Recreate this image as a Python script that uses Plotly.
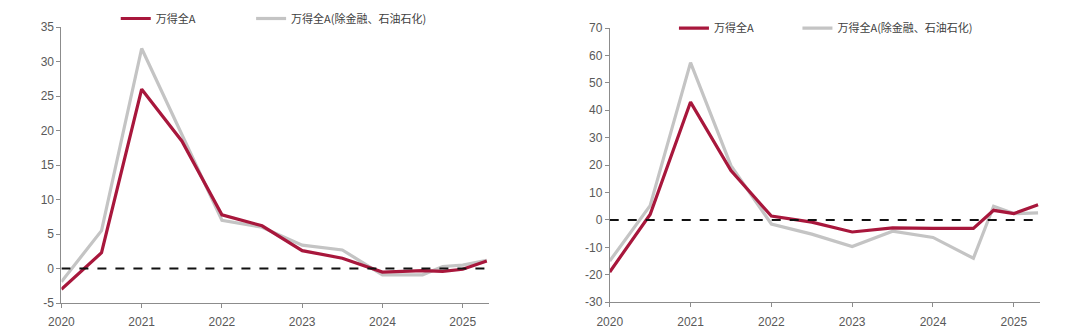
import plotly.graph_objects as go

# x positions (year fractions)
periods = [2020.0, 2020.5, 2021.0, 2021.5, 2022.0, 2022.5, 2023.0, 2023.5,
           2024.0, 2024.5, 2024.75, 2025.0, 2025.3]

# left chart
left_all_a = [-3.0, 2.3, 26.0, 18.5, 7.8, 6.2, 2.6, 1.5, -0.5, -0.3, -0.4, -0.1, 1.1]
left_ex_fin = [-1.9, 5.5, 31.9, 19.4, 7.0, 6.0, 3.4, 2.7, -0.9, -0.9, 0.3, 0.5, 1.2]

# right chart
right_all_a = [-19.0, 2.0, 43.0, 18.0, 1.4, -0.8, -4.4, -2.9, -3.1, -3.1, 3.5, 2.3, 5.5]
right_ex_fin = [-15.0, 5.2, 57.4, 19.8, -1.5, -5.2, -9.7, -4.1, -6.4, -14.0, 5.0, 2.3, 2.6]

year_ticks = [2020, 2021, 2022, 2023, 2024, 2025]
year_labels = ["2020", "2021", "2022", "2023", "2024", "2025"]
left_yticks = [-5, 0, 5, 10, 15, 20, 25, 30, 35]
left_ylabels = ["-5", "0", "5", "10", "15", "20", "25", "30", "35"]
right_yticks = [-30, -20, -10, 0, 10, 20, 30, 40, 50, 60, 70]
right_ylabels = ["-30", "-20", "-10", "0", "10", "20", "30", "40", "50", "60", "70"]

name_a = "万得全A"
name_b = "万得全A(除金融、石油石化)"

RED = "#A8173C"
GRAY = "#C4C4C4"
AXIS = "#8C8C8C"
TXT = "#595959"

fig = go.Figure()

fig.add_trace(go.Scatter(x=periods, y=left_ex_fin, name=name_b, mode="lines",
                         line=dict(color=GRAY, width=3.2), xaxis="x", yaxis="y",
                         legend="legend2"))
fig.add_trace(go.Scatter(x=periods, y=left_all_a, name=name_a, mode="lines",
                         line=dict(color=RED, width=3.2), xaxis="x", yaxis="y",
                         legend="legend"))
fig.add_trace(go.Scatter(x=periods, y=right_ex_fin, name=name_b, mode="lines",
                         line=dict(color=GRAY, width=3.2), xaxis="x2", yaxis="y2",
                         legend="legend4"))
fig.add_trace(go.Scatter(x=periods, y=right_all_a, name=name_a, mode="lines",
                         line=dict(color=RED, width=3.2), xaxis="x2", yaxis="y2",
                         legend="legend3"))

xr = [2020, 2025.33]
for xa, ya in (("x", "y"), ("x2", "y2")):
    fig.add_shape(type="line", xref=xa, yref=ya, x0=periods[0], x1=periods[-1],
                  y0=0, y1=0, line=dict(color="#111111", width=2, dash="dash"),
                  layer="above")

axis_common = dict(showgrid=False, zeroline=False, showline=True, linecolor=AXIS,
                   linewidth=1, ticks="outside", ticklen=4, tickcolor=AXIS,
                   tickfont=dict(family="Liberation Sans, Arial", size=12, color=TXT))

leg_font = dict(family="Noto Sans CJK SC", size=11, color="#404040")


def leg(xpx, ypx):
    return dict(orientation="h", x=xpx/1080, y=1-ypx/335, xanchor="left",
                yanchor="middle", xref="paper", yref="paper",
                bgcolor="rgba(0,0,0,0)", font=leg_font, itemwidth=30)


fig.update_layout(
    width=1080, height=335,
    margin=dict(l=0, r=0, t=0, b=0),
    paper_bgcolor="white", plot_bgcolor="white",
    showlegend=True,
    xaxis=dict(domain=[49/1080, 482/1080], range=xr, tickvals=year_ticks,
               ticktext=year_labels, anchor="y", ticklabelstandoff=4, **axis_common),
    yaxis=dict(domain=[1-309/335, 1-21/335], range=[-5, 35], tickvals=left_yticks,
               ticktext=left_ylabels, anchor="x", **axis_common),
    xaxis2=dict(domain=[604/1080, 1040/1080], range=xr, tickvals=year_ticks,
                ticktext=year_labels, anchor="y2", ticklabelstandoff=4, **axis_common),
    yaxis2=dict(domain=[1-308/335, 1-22/335], range=[-30, 70], tickvals=right_yticks,
                ticktext=right_ylabels, anchor="x2", **axis_common),
    legend=leg(104, 12),
    legend2=leg(241, 12),
    legend3=leg(669, 22),
    legend4=leg(794, 22),
)

fig.write_html("out.html")
